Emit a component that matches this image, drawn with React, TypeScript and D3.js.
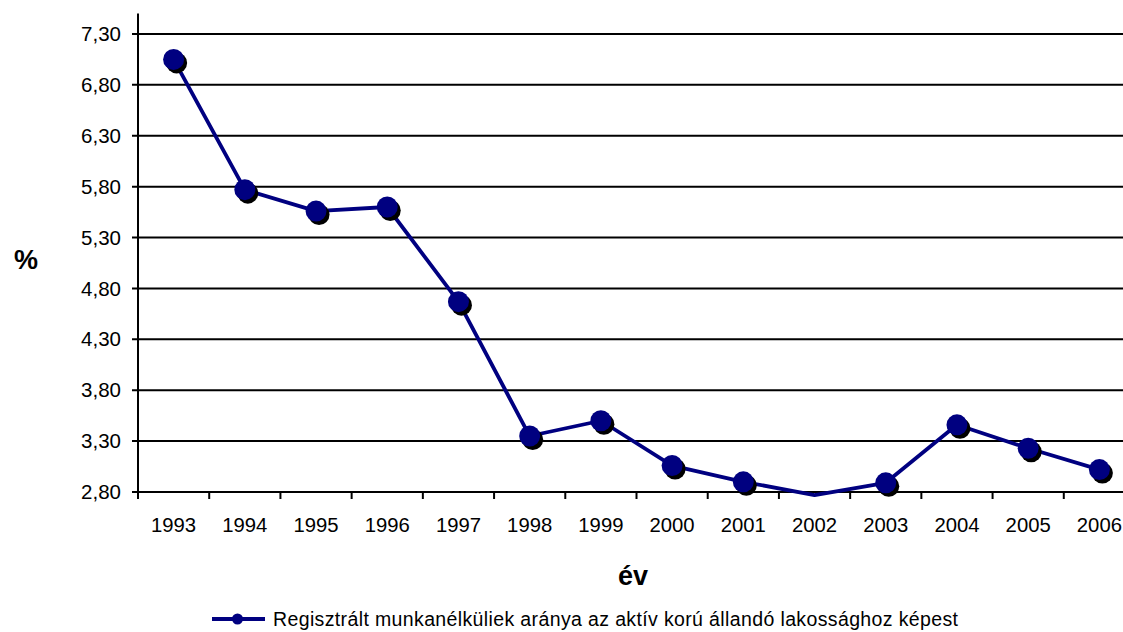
import React from "react";
import * as d3 from "d3";

const years = ["1993","1994","1995","1996","1997","1998","1999","2000","2001","2002","2003","2004","2005","2006"];
const values = [7.05, 5.77, 5.56, 5.60, 4.67, 3.35, 3.50, 3.06, 2.90, 2.77, 2.89, 3.46, 3.23, 3.02];
const yTicks = [2.8, 3.3, 3.8, 4.3, 4.8, 5.3, 5.8, 6.3, 6.8, 7.3];
const seriesName = "Regisztrált munkanélküliek aránya az aktív korú állandó lakossághoz képest";
const xTitle = "év";
const yTitle = "%";

const W = 1123, H = 632;
const left = 138, right = 1135, top = 13.6, bottom = 492;
const FONT = "'Liberation Sans', Arial, sans-serif";

export default function App() {
  const x = d3.scaleBand<string>().domain(years).range([left, right]).padding(0);
  const y = d3.scaleLinear().domain([2.8, 7.5]).range([bottom, top]);
  const cx = (yr: string) => (x(yr) as number) + x.bandwidth() / 2;
  const line = d3.line<number>().x((_, i) => cx(years[i])).y((v) => y(v));
  const bounds = years.map((yr) => x(yr) as number).concat([right]);
  const fmt = (v: number) => v.toFixed(2).replace(".", ",");
  const shown = values.map((v, i) => ({ v, yr: years[i] })).filter((d) => d.v >= 2.8);

  return (
    <svg width={W} height={H} style={{ position: "absolute", left: 0, top: 0, background: "#fff" }} fontFamily={FONT}>
      <rect x={0} y={0} width={W} height={H} fill="#fff" />
      {yTicks.map((t) => (
        <g key={t}>
          <line x1={left - 6} x2={right} y1={y(t)} y2={y(t)} stroke="#000" strokeWidth={2} />
          <text x={121} y={y(t)} dy="0.35em" textAnchor="end" fontSize={20.5} fill="#000">{fmt(t)}</text>
        </g>
      ))}
      <line x1={left} x2={left} y1={top} y2={bottom} stroke="#000" strokeWidth={2} />
      {bounds.map((b, i) => (
        <line key={i} x1={b} x2={b} y1={bottom} y2={bottom + 7} stroke="#000" strokeWidth={2} />
      ))}
      {years.map((yr) => (
        <text key={yr} x={cx(yr)} y={532} textAnchor="middle" fontSize={20.3} fill="#000">{yr}</text>
      ))}
      <path d={line(values) || ""} fill="none" stroke="#000080" strokeWidth={3.8} strokeLinejoin="round" />
      {shown.map((d) => (
        <circle key={"s" + d.yr} cx={cx(d.yr) + 3} cy={y(d.v) + 3.5} r={10.5} fill="#000" />
      ))}
      {shown.map((d) => (
        <circle key={"m" + d.yr} cx={cx(d.yr)} cy={y(d.v)} r={10.5} fill="#000080" />
      ))}
      <text x={26} y={269} textAnchor="middle" fontSize={27} fontWeight="bold" fill="#000">{yTitle}</text>
      <text x={633} y={585} textAnchor="middle" fontSize={27} fontWeight="bold" fill="#000">{xTitle}</text>
      <line x1={212} x2={265} y1={619} y2={619} stroke="#000080" strokeWidth={3.8} />
      <circle cx={237.5} cy={619} r={5.5} fill="#000080" />
      <text x={273} y={626} fontSize={19.5} textLength={685} lengthAdjust="spacing" fill="#000">{seriesName}</text>
    </svg>
  );
}
